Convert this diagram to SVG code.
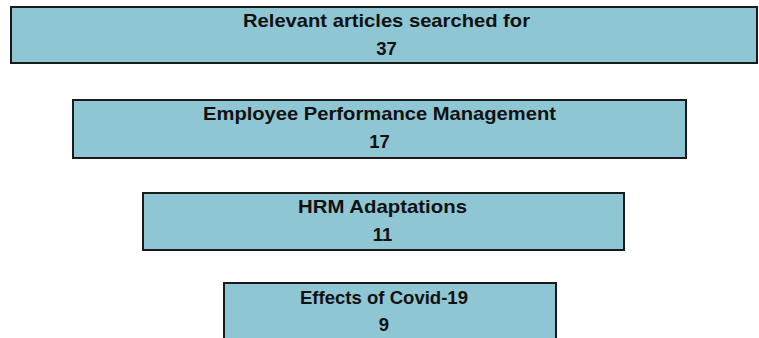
<svg xmlns="http://www.w3.org/2000/svg" width="759" height="338" viewBox="0 0 759 338">
  <style>
    .box { fill: #8fc6d3; stroke: #1a1a1a; stroke-width: 2; }
    .lbl { font-family: "Liberation Sans", Arial, sans-serif; font-weight: bold; font-size: 18.5px; fill: #111; text-anchor: middle; }
  </style>
  <rect width="759" height="338" fill="#ffffff"/>
  <g id="connectors"></g>
  <g id="node-searched">
    <rect class="box" x="11" y="7" width="746" height="56"/>
    <text class="lbl" x="386.5" y="27" textLength="287" lengthAdjust="spacingAndGlyphs">Relevant articles searched for</text>
    <text class="lbl" x="386.5" y="55">37</text>
  </g>
  <g id="node-performance">
    <rect class="box" x="73" y="100" width="613" height="58"/>
    <text class="lbl" x="379.5" y="120" textLength="353" lengthAdjust="spacingAndGlyphs">Employee Performance Management</text>
    <text class="lbl" x="379.5" y="148">17</text>
  </g>
  <g id="node-hrm">
    <rect class="box" x="143" y="193" width="481" height="57"/>
    <text class="lbl" x="382.5" y="213" textLength="169" lengthAdjust="spacingAndGlyphs">HRM Adaptations</text>
    <text class="lbl" x="382.5" y="241">11</text>
  </g>
  <g id="node-covid">
    <rect class="box" x="224" y="283" width="332" height="60"/>
    <text class="lbl" x="384" y="304" textLength="168" lengthAdjust="spacingAndGlyphs">Effects of Covid-19</text>
    <text class="lbl" x="384" y="331">9</text>
  </g>
</svg>
